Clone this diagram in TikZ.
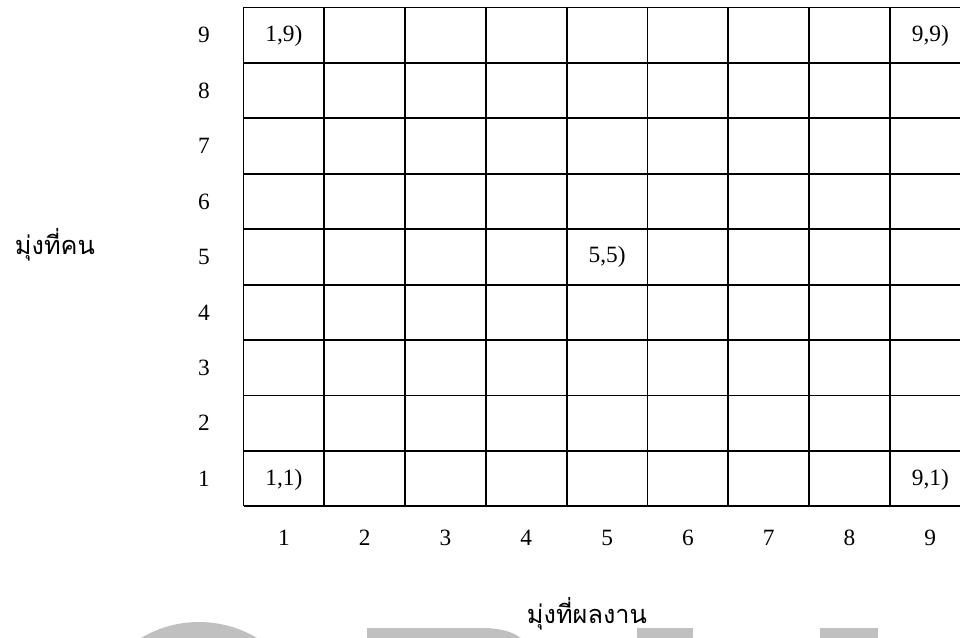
\documentclass[tikz,border=0pt]{standalone}
\usepackage{fontspec}
\setmainfont{Liberation Serif}
\newfontfamily\thaifont[Script=Thai]{Loma}
\usetikzlibrary{positioning}
\definecolor{cGrid}{HTML}{000000}
\definecolor{cMark}{HTML}{C0C0C0}

\begin{document}
\begin{tikzpicture}[x=0.75pt, y=-0.75pt, font=\fontsize{17.5}{20}\selectfont,
    gridline/.style={draw=cGrid, line width=1.4pt},
    axislabel/.style={font=\thaifont\fontsize{19}{22}\selectfont}]
        \useasboundingbox (0,0) rectangle (960,638);
        \fill[cMark] (199,735) circle (113);
        \fill[cMark] (367,628) -- (482,628) .. controls (505,628) and (520,634) .. (527,645) -- (367,645) -- cycle;
        \fill[cMark] (637,628) rectangle (693,645);
        \fill[cMark] (820,628) rectangle (878,645);
        \foreach \i in {0,...,9}
          \draw[gridline] (243.5+80.8*\i,7.5) -- (243.5+80.8*\i,506.3);
        \foreach \j in {0,...,9}
          \draw[gridline] (243.5,7.5+55.42*\j) -- (970.7,7.5+55.42*\j);
        \foreach \r in {1,...,9}
          \node (row\r) at (204,478.6-55.42*\r+55.42) {\r};
        \foreach \c in {1,...,9}
          \node (col\c) at (203.1+80.8*\c,538) {\c};
        \node (c19) at (283.9,35.5) {1,9)};
        \node (c99) at (930.3,35.5) {9,9)};
        \node (c55) at (607.1,257.2) {5,5)};
        \node (c11) at (283.9,480) {1,1)};
        \node (c91) at (930.3,480) {9,1)};
        \node[axislabel] (ylab) at (55,245) {มุ่งที่คน};
        \node[axislabel] (xlab) at (587,614) {มุ่งที่ผลงาน};
      \end{tikzpicture}
\end{document}
